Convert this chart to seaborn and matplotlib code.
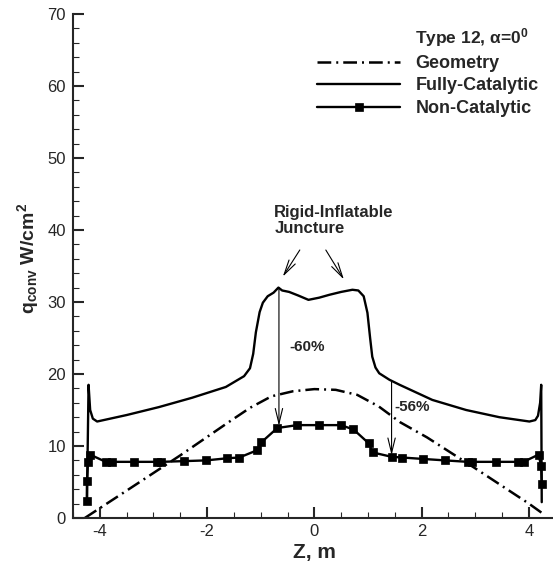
import matplotlib
matplotlib.use("Agg")
import matplotlib.pyplot as plt
import seaborn as sns

# Geometry profile (dash-dot)
geom_z = [-4.28, -3.5, -2.5, -1.6, -1.2, -0.8, -0.4, 0.0, 0.4, 0.8, 1.2, 1.6, 2.1, 3.0, 4.0, 4.3]
geom_q = [0.0, 3.8, 8.7, 13.3, 15.3, 16.9, 17.6, 17.9, 17.8, 17.1, 15.5, 13.3, 11.2, 6.9, 2.0, 0.4]

# Fully-catalytic heating
fc_z = [-4.24, -4.21, -4.18, -4.13, -4.05, -3.5, -2.9, -2.28, -1.65, -1.31, -1.2, -1.14,
        -1.09, -1.02, -0.96, -0.87, -0.76, -0.67, -0.6, -0.47, -0.3, -0.11, 0.09, 0.28,
        0.5, 0.71, 0.82, 0.92, 0.99, 1.04, 1.08, 1.14, 1.21, 1.4, 1.59, 2.2, 2.83, 3.45,
        4.01, 4.12, 4.17, 4.21, 4.23, 4.24]
fc_q = [2.2, 18.5, 15.0, 13.8, 13.4, 14.3, 15.4, 16.7, 18.2, 19.7, 20.8, 22.8,
        25.8, 28.6, 29.9, 30.8, 31.3, 32.0, 31.6, 31.4, 30.9, 30.3, 30.6, 31.0,
        31.4, 31.7, 31.6, 30.8, 28.5, 25.0, 22.4, 20.9, 20.1, 19.2, 18.5, 16.4, 15.0, 14.0,
        13.4, 13.6, 14.2, 16.0, 18.5, 2.2]

# Non-catalytic heating (symbols)
nc_z = [-4.24, -4.24, -4.22, -4.18, -3.89, -3.77, -3.36, -2.94, -2.86, -2.43, -2.02,
        -1.62, -1.40, -1.07, -0.99, -0.69, -0.32, 0.08, 0.49, 0.73, 1.01, 1.09, 1.44,
        1.64, 2.03, 2.44, 2.86, 2.94, 3.39, 3.79, 3.90, 4.18, 4.23, 4.24]
nc_q = [2.3, 5.1, 7.8, 8.8, 7.8, 7.8, 7.8, 7.8, 7.8, 7.9, 8.0,
        8.3, 8.4, 9.4, 10.5, 12.5, 12.9, 12.9, 12.9, 12.3, 10.4, 9.1, 8.5,
        8.4, 8.2, 8.0, 7.8, 7.8, 7.8, 7.8, 7.8, 8.8, 7.2, 4.7]

sns.set_style("ticks")
plt.rcParams["font.family"] = ["Liberation Sans", "DejaVu Sans"]
plt.rcParams["mathtext.fontset"] = "custom"
plt.rcParams["mathtext.rm"] = "Liberation Sans"
plt.rcParams["mathtext.bf"] = "Liberation Sans:bold"
plt.rcParams["mathtext.it"] = "Liberation Sans:italic"
plt.rcParams["axes.unicode_minus"] = False

fig = plt.figure(figsize=(5.53, 5.66), dpi=100)
ax = fig.add_axes([73 / 553, 48 / 566, 480 / 553, 504 / 566])

sns.lineplot(x=geom_z, y=geom_q, ax=ax, estimator=None, sort=False,
             color="black", lw=1.8, linestyle=(0, (5.5, 2.0, 0.8, 2.0)),
             label="Geometry")
sns.lineplot(x=fc_z, y=fc_q, ax=ax, estimator=None, sort=False,
             color="black", lw=1.7, label="Fully-Catalytic")
sns.lineplot(x=nc_z, y=nc_q, ax=ax, estimator=None, sort=False,
             color="black", lw=1.7, marker="s", markersize=5.5,
             markeredgecolor="black", markeredgewidth=0.5,
             label="Non-Catalytic")

ax.set_xlim(-4.5, 4.45)
ax.set_ylim(0, 70)
ax.set_xticks([-4, -2, 0, 2, 4])
ax.set_xticks([x * 0.5 for x in range(-9, 9)], minor=True)
ax.set_yticks(range(0, 71, 10))
ax.set_yticks(range(0, 71, 2), minor=True)
ax.tick_params(which="major", direction="in", length=8, width=1.5, labelsize=12)
ax.tick_params(which="minor", direction="in", length=4.5, width=0.8)
ax.tick_params(axis="x", which="major", pad=4)
ax.tick_params(axis="y", which="major", pad=5)

sns.despine(ax=ax)
for side in ["left", "bottom"]:
    ax.spines[side].set_linewidth(1.5)

ax.set_xlabel("Z, m", fontsize=15, fontweight="bold", va="center")
ax.xaxis.set_label_coords(0.504, -0.0675)
ax.set_ylabel(r"q$_\mathbf{conv}$ W/cm$^\mathbf{2}$", fontsize=14,
              fontweight="bold", va="center")
ax.yaxis.set_label_coords(-0.094, 0.514)

ax.legend(loc="upper left", bbox_to_anchor=(317 / 553, 1 - 55 / 566),
          bbox_transform=fig.transFigure, frameon=False,
          prop={"weight": "bold", "size": 13}, handlelength=4.6,
          handletextpad=0.85, labelspacing=0.3, borderpad=0, borderaxespad=0,
          numpoints=1)
fig.text(415 / 553, 1 - 38 / 566, r"Type 12, α=0$^\mathbf{0}$", fontsize=12.5,
         fontweight="bold", ha="left", va="center")

# annotations
head = "->,head_length=0.9,head_width=0.22"
ax.text(-0.746, 43.5, "Rigid-Inflatable\nJuncture", fontsize=12,
        fontweight="bold", ha="left", va="top", linespacing=1.1)
ax.annotate("", xy=(-0.616, 33.2), xytext=(-0.243, 37.55),
            arrowprops=dict(arrowstyle=head, lw=0.8, color="black", mutation_scale=12))
ax.annotate("", xy=(0.578, 32.8), xytext=(0.187, 37.55),
            arrowprops=dict(arrowstyle=head, lw=0.8, color="black", mutation_scale=12))
ax.annotate("", xy=(-0.66, 12.8), xytext=(-0.66, 32.0),
            arrowprops=dict(arrowstyle=head, lw=0.8, color="black", mutation_scale=12,
                            shrinkA=0, shrinkB=0))
ax.annotate("", xy=(1.44, 8.7), xytext=(1.44, 18.9),
            arrowprops=dict(arrowstyle=head, lw=0.8, color="black", mutation_scale=12,
                            shrinkA=0, shrinkB=0))
ax.text(-0.466, 23.8, "-60%", fontsize=11, fontweight="bold", ha="left", va="center")
ax.text(1.49, 15.4, "-56%", fontsize=11, fontweight="bold", ha="left", va="center")

fig.savefig("out.png", dpi=100)
